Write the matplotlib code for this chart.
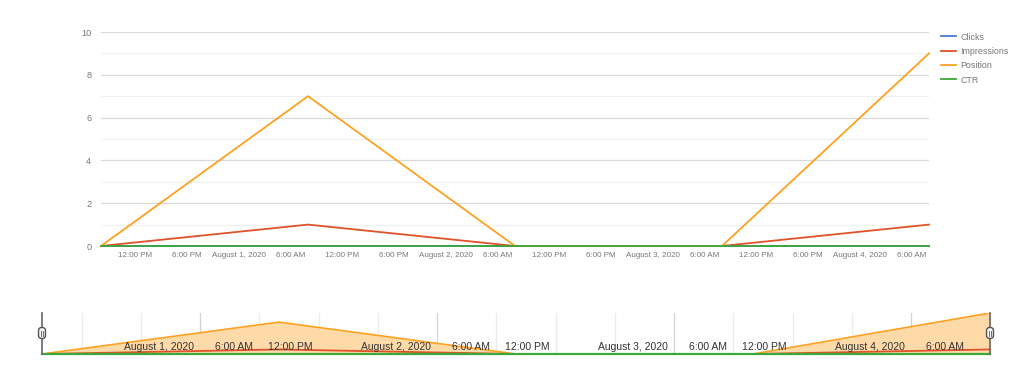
import pandas as pd
import numpy as np
import matplotlib
matplotlib.use("Agg")
import matplotlib.pyplot as plt
from matplotlib.patches import FancyBboxPatch
from matplotlib.transforms import IdentityTransform

plt.rcParams["font.family"] = ["Liberation Sans", "DejaVu Sans"]

# data, one point per day
dates = pd.to_datetime(["2020-07-31 08:00", "2020-08-01 08:00", "2020-08-02 08:00",
                        "2020-08-03 08:00", "2020-08-04 08:00"])
clicks = [0, 0, 0, 0, 0]
impressions = [0, 1, 0, 0, 1]
position = [0, 7, 0, 0, 9]
ctr = [0, 0, 0, 0, 0]

colors = {"Clicks": "#4a78d4", "Impressions": "#e0522a", "Position": "#ffa11f", "CTR": "#3aa83a"}

W, H = 1024, 377
fig = plt.figure(figsize=(W / 100, H / 100), dpi=100)

# main chart
ax = fig.add_axes([101 / W, 1 - 246 / H, (929 - 101) / W, (246 - 32) / H])
ax.plot(dates, clicks, color=colors["Clicks"], lw=1.3, label="Clicks", zorder=3, clip_on=False)
ax.plot(dates, impressions, color=colors["Impressions"], lw=1.3, label="Impressions", zorder=4, clip_on=False)
ax.plot(dates, position, color=colors["Position"], lw=1.3, label="Position", zorder=4, clip_on=False)
ax.plot(dates, ctr, color=colors["CTR"], lw=1.3, label="CTR", zorder=5, clip_on=False)

ax.set_xlim(dates[0], dates[-1])
ax.set_ylim(0, 10)
ax.set_yticks(range(0, 11, 2))
ax.set_yticks(range(1, 10, 2), minor=True)
ax.grid(axis="y", which="major", color="#d9d9d9", lw=0.9)
ax.grid(axis="y", which="minor", color="#f0f0f0", lw=0.9)
for s in ax.spines.values():
    s.set_visible(False)

ticks = pd.date_range("2020-07-31 12:00", "2020-08-04 06:00", freq="6h")
def tick_label(t):
    if t.hour == 0:
        return t.strftime("%B ") + str(t.day) + t.strftime(", %Y")
    return t.strftime("%I:%M %p").lstrip("0")
ax.set_xticks(ticks)
ax.set_xticklabels([tick_label(t) for t in ticks])
ax.tick_params(axis="both", which="both", length=0, labelsize=5.8, colors="#777777")
ax.tick_params(axis="x", pad=4)
ax.tick_params(axis="y", pad=7, labelsize=6.6)

ax.legend(loc="upper left", bbox_to_anchor=(1.0045, 1.035), frameon=False, fontsize=6.4,
          handlelength=1.75, handletextpad=0.45, labelspacing=0.6, labelcolor="#777777")

# navigator
nav = fig.add_axes([42 / W, 1 - 354 / H, (990 - 42) / W, (354 - 313) / H])
nav.fill_between(dates, position, color="#ffdaa9", lw=0, zorder=1)
nav.plot(dates, position, color=colors["Position"], lw=1.2, zorder=3)
nav.plot(dates, impressions, color=colors["Impressions"], lw=1.3, zorder=3)
nav.plot(dates, ctr, color=colors["CTR"], lw=1.6, zorder=4, clip_on=False)
nav.set_xlim(dates[0], dates[-1])
nav.set_ylim(0, 9)
nav.set_yticks([])
grid_ticks = pd.date_range("2020-07-31 12:00", "2020-08-04 06:00", freq="6h")
for t in grid_ticks:
    nav.axvline(t, color="#d3d3d3" if t.hour == 0 else "#ebebeb", lw=0.9, zorder=0)
nav.set_xticks([])
for s in nav.spines.values():
    s.set_visible(False)

# navigator labels, right aligned to their grid line
for t in grid_ticks:
    if t.hour == 18 or t < pd.Timestamp("2020-08-01"):
        continue
    nav.text(t - pd.Timedelta(minutes=35), 0.45, tick_label(t), ha="right", va="bottom",
             fontsize=7.5, color="#333333", zorder=5)

# navigator handles (pixel coordinates)
for xp, yc in [(42, 333), (990, 333)]:
    fig.add_artist(plt.Line2D([xp / W, xp / W], [1 - 313 / H, 1 - 354 / H],
                              color="#666666", lw=1.2, zorder=6))
    fig.add_artist(FancyBboxPatch((xp - 3.5, H - yc - 5.5), 7, 11,
                                  boxstyle="round,pad=0,rounding_size=3",
                                  transform=IdentityTransform(),
                                  facecolor="#f4f4f4", edgecolor="#555555", lw=1.0, zorder=7))
    for dx in (-1, 1):
        fig.add_artist(plt.Line2D([xp + dx, xp + dx], [H - yc - 2.5, H - yc + 2.5],
                                  transform=IdentityTransform(),
                                  color="#555555", lw=0.6, zorder=8))

fig.savefig("out.png", dpi=100)
